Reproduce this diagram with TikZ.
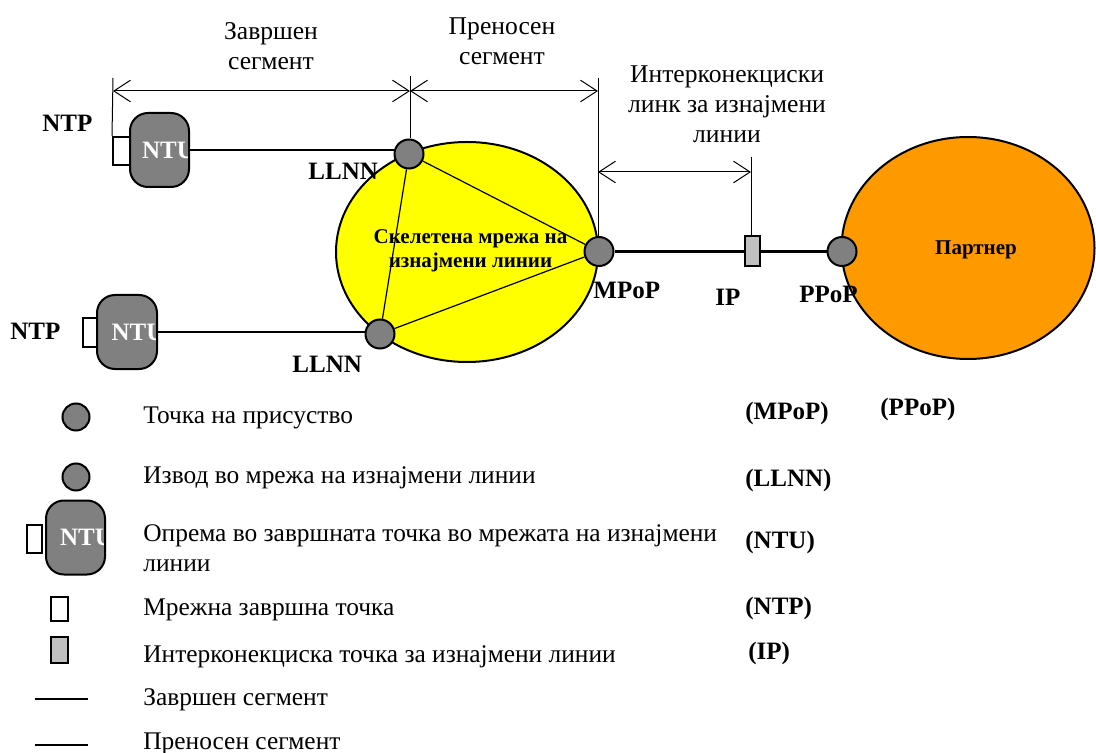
\documentclass[tikz,border=0pt]{standalone}
\usepackage{fontspec}
\setmainfont{Liberation Serif}
\usetikzlibrary{arrows.meta,shapes.geometric}
\definecolor{nodegray}{HTML}{808080}
\definecolor{ipgray}{HTML}{C0C0C0}
\definecolor{netyellow}{HTML}{FFFF00}
\definecolor{partorange}{HTML}{FF9900}
\begin{document}
\begin{tikzpicture}[x=0.5pt,y=-0.5pt,
  pres/.style={circle,draw,line width=1pt,fill=nodegray,minimum size=14.5pt,inner sep=0pt},
  ntubox/.style={rectangle,rounded corners=9pt,draw,line width=1pt,fill=nodegray,inner sep=0pt,
    minimum width=29.5pt,minimum height=37pt,
    path picture={\node[anchor=west,inner sep=0pt,text=white,font=\bfseries\fontsize{12.5}{14}\selectfont]
      at ([xshift=#1]path picture bounding box.west) {NTU};}},
  ntpbox/.style={rectangle,draw,line width=1pt,fill=white,inner sep=0pt},
  ipbox/.style={rectangle,draw,line width=1pt,fill=ipgray,inner sep=0pt},
  netell/.style={ellipse,draw,line width=1pt,inner sep=0pt},
  lbl/.style={inner sep=0pt,font=\bfseries\fontsize{12.5}{14}\selectfont},
  inlbl/.style={inner sep=0pt,align=center,font=\bfseries\fontsize{10.5}{12}\selectfont},
  txt/.style={inner sep=0pt,font=\fontsize{12.7}{15}\selectfont},
  toptxt/.style={inner sep=0pt,align=center,font=\fontsize{12.8}{15}\selectfont},
  dimline/.style={line width=0.5pt,{Straight Barb[length=8.3pt,width=10.8pt]}-{Straight Barb[length=8.3pt,width=10.8pt]}},
  guide/.style={line width=0.5pt},
  endseg/.style={line width=1.3pt},
  trseg/.style={line width=0.6pt}
]
\useasboundingbox (0,0) rectangle (1096,753);

% ellipses
\node[netell,fill=netyellow,minimum width=131pt,minimum height=110pt] (bb) at (467,252) {};
\node[netell,fill=partorange,minimum width=126.5pt,minimum height=111pt] (partner) at (968,248) {};

% NTP boxes and NTUs
\node[ntpbox,minimum width=8.5pt,minimum height=14pt] (ntp1) at (121.5,151) {};
\node[ntubox=4pt] (ntu1) at (159.5,150) {};
\node[ntpbox,minimum width=7pt,minimum height=14.5pt] (ntp2) at (90,332.5) {};
\node[ntubox=5pt,minimum width=30pt] (ntu2) at (127,332) {};

% presence points
\coordinate (llnn1c) at (409,154);
\coordinate (llnn2c) at (380,334);
\node[ipbox,minimum width=7.5pt,minimum height=15pt] (ip) at (752.5,251.5) {};

% connectors (behind circles)
\draw[endseg] (ntu1.east) -- (ntu1.east -| llnn1c);
\draw[endseg] (ntu2.east) -- (ntu2.east -| llnn2c);

\node[pres] (llnn1) at (llnn1c) {};
\node[pres] (llnn2) at (llnn2c) {};
\node[pres] (mpop) at (599,251.5) {};
\node[pres] (ppop) at (842,251.5) {};

\draw[trseg] (llnn1) -- (llnn2);
\draw[trseg] (llnn1) -- (mpop);
\draw[trseg] (llnn2) -- (mpop);
\draw[endseg] (mpop) -- (ip);
\draw[endseg] (ip) -- (ppop);

% dimension lines
\coordinate (v1) at (113,78);
\coordinate (v2) at (410,76);
\coordinate (v3) at (598,78);
\coordinate (v4) at (751,157);
\coordinate (d1) at (113,91);
\coordinate (d2) at (410,91);
\coordinate (d3) at (598,91);
\coordinate (d4) at (598,172);
\coordinate (d5) at (751,172);
\draw[guide] (v1) -- (ntp1.north west);
\draw[guide] (v2) -- (v2 |- llnn1.north);
\draw[guide] (v3) -- (v3 |- mpop.north);
\draw[guide] (v4) -- (v4 |- ip.north);
\draw[dimline] (d1) -- (d2);
\draw[dimline] (d2) -- (d3);
\draw[dimline] (d4) -- (d5);

\node[toptxt] (tend) at (271,46) {Завршен\\сегмент};
\node[toptxt] (ttr) at (502,41.5) {Преносен\\сегмент};
\node[toptxt] (tic) at (727,104) {Интерконекциски\\линк за изнајмени\\линии};

% labels
\node[lbl,anchor=base west] (lntp1) at (42,132) {NTP};
\node[lbl,anchor=base west] (lllnn1) at (308,180) {LLNN};
\node[lbl,anchor=base west] (lntp2) at (10,340) {NTP};
\node[lbl,anchor=base west] (lllnn2) at (292,372) {LLNN};
\node[lbl,anchor=base west] (lmpop) at (593,299) {MPoP};
\node[lbl,anchor=base west] (lip) at (715,306) {IP};
\node[lbl,anchor=base west] (lppop) at (799,303) {PPoP};
\node[inlbl] (lbb) at (470.5,251) {Скелетена мрежа на\\изнајмени линии};
\node[inlbl,anchor=base] (lpart) at (976,255) {Партнер};

% legend
\node[pres,minimum size=13.5pt] (lg1) at (76,417) {};
\node[pres,minimum size=13.5pt] (lg2) at (76,477) {};
\node[ntpbox,minimum width=7.5pt,minimum height=14pt] (lg3p) at (34,539) {};
\node[ntubox=5pt] (lg3) at (75.5,537.5) {};
\node[ntpbox,minimum width=8.5pt,minimum height=12pt] (lg4) at (59,609) {};
\node[ipbox,minimum width=8.5pt,minimum height=13pt] (lg5) at (59,650) {};
\coordinate (lg6a) at (35,699);
\coordinate (lg6b) at (88,699);
\coordinate (lg7a) at (35,745);
\coordinate (lg7b) at (88,745);
\draw[endseg] (lg6a) -- (lg6b);
\draw[trseg] (lg7a) -- (lg7b);

\node[txt,anchor=base west] (lt1) at (143,423) {Точка на присуство};
\node[txt,anchor=base west] (lt2) at (143,483) {Извод во мрежа на изнајмени линии};
\node[txt,anchor=base west] (lt3) at (143,541) {Опрема во завршната точка во мрежата на изнајмени};
\node[txt,anchor=base west] (lt3b) at (143,571) {линии};
\node[txt,anchor=base west] (lt4) at (143,615) {Мрежна завршна точка};
\node[txt,anchor=base west] (lt5) at (143,662) {Интерконекциска точка за изнајмени линии};
\node[txt,anchor=base west] (lt6) at (143,705) {Завршен сегмент};
\node[txt,anchor=base west] (lt7) at (143,749) {Преносен сегмент};

\node[lbl,anchor=base west] (la1) at (745,419) {(MPoP)};
\node[lbl,anchor=base west] (la1b) at (880,415) {(PPoP)};
\node[lbl,anchor=base west] (la2) at (745,486) {(LLNN)};
\node[lbl,anchor=base west] (la3) at (745,548) {(NTU)};
\node[lbl,anchor=base west] (la4) at (745,614) {(NTP)};
\node[lbl,anchor=base west] (la5) at (748,659) {(IP)};
\end{tikzpicture}
\end{document}
